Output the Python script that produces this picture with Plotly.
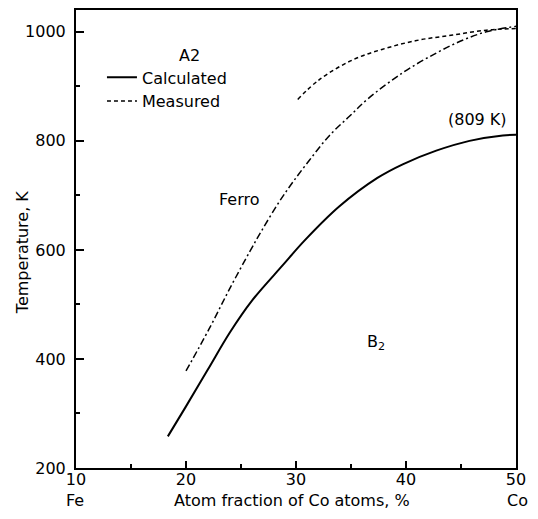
import plotly.graph_objects as go

# Calculated order-disorder (A2/B2) transition curve
calc_x = [18.35, 20.0, 22.0, 24.0, 26.0, 28.8, 30.77, 33.95, 37.4, 39.7, 42.75, 45.77, 48.8, 50.0]
calc_y = [258, 313, 381, 449, 507, 572, 617, 680, 732, 757, 782, 800, 810, 811]

# Measured transition curve (dashed)
meas_x = [30.16, 32.1, 35.2, 38.2, 41.2, 44.25, 47.3, 50.0]
meas_y = [876, 912, 949, 970, 985, 994, 1003, 1006]

# Ferro boundary curve (dash-dot)
ferro_x = [20.0, 22.1, 23.95, 25.77, 26.84, 28.5, 29.7, 31.2, 33.05, 34.86, 36.53, 39.7, 42.75, 45.2, 47.3, 50.0]
ferro_y = [378, 455, 528, 596, 634, 689, 724, 764, 810, 845, 877, 925, 961, 985, 1000, 1010]

x_tickvals = [10, 20, 30, 40, 50]
x_ticktext = ["10", "20", "30", "40", "50"]
y_tickvals = [200, 400, 600, 800, 1000]

FONT = "DejaVu Sans"

fig = go.Figure()
fig.add_trace(go.Scatter(x=calc_x, y=calc_y, mode="lines", name="Calculated",
                         line=dict(color="black", width=2, shape="spline")))
fig.add_trace(go.Scatter(x=meas_x, y=meas_y, mode="lines", name="Measured",
                         line=dict(color="black", width=1.5, dash="4px,3px", shape="spline")))
fig.add_trace(go.Scatter(x=ferro_x, y=ferro_y, mode="lines", name="Ferro", showlegend=False,
                         line=dict(color="black", width=1.5, dash="7px,3px,2px,3px", shape="spline")))

fig.update_layout(
    width=522, height=503,
    margin=dict(l=68, r=14, t=0, b=43),
    paper_bgcolor="white", plot_bgcolor="white",
    font=dict(family=FONT, size=16, color="black"),
    showlegend=True,
    legend=dict(x=0.059, y=0.89, xanchor="left", yanchor="top",
                bgcolor="rgba(0,0,0,0)", borderwidth=0,
                font=dict(family=FONT, size=16), tracegroupgap=0),
    xaxis=dict(range=[10, 50], tickvals=x_tickvals, ticktext=x_ticktext,
               ticks="inside", ticklen=7, tickwidth=1.5, tickcolor="black",
               ticklabelstandoff=-4,
               showline=True, linecolor="black", linewidth=2, mirror=True,
               showgrid=False, zeroline=False,
               minor=dict(tickvals=[15, 25, 35, 45], ticks="inside", ticklen=4,
                          tickwidth=1.5, tickcolor="black")),
    yaxis=dict(range=[200, 1040], tickvals=y_tickvals,
               ticks="inside", ticklen=8, tickwidth=1.5, tickcolor="black",
               ticklabelstandoff=5,
               showline=True, linecolor="black", linewidth=2, mirror=True,
               showgrid=False, zeroline=False,
               minor=dict(tickvals=[300, 500, 700, 900], ticks="inside", ticklen=4,
                          tickwidth=1.5, tickcolor="black")),
    annotations=[
        dict(x=20.3, y=957, xref="x", yref="y", text="A2", showarrow=False,
             font=dict(family=FONT, size=16)),
        dict(x=24.86, y=693, xref="x", yref="y", text="Ferro", showarrow=False,
             font=dict(family=FONT, size=16)),
        dict(x=46.5, y=839, xref="x", yref="y", text="(809 K)", showarrow=False,
             font=dict(family=FONT, size=16)),
        dict(x=37.3, y=430, xref="x", yref="y", text="B<sub>2</sub>", showarrow=False,
             font=dict(family=FONT, size=16)),
        dict(x=-0.003, y=-0.0717, xref="paper", yref="paper", text="Fe", showarrow=False,
             xanchor="center", yanchor="middle", font=dict(family=FONT, size=16)),
        dict(x=1.003, y=-0.0717, xref="paper", yref="paper", text="Co", showarrow=False,
             xanchor="center", yanchor="middle", font=dict(family=FONT, size=16)),
        dict(x=0.49, y=-0.0717, xref="paper", yref="paper", text="Atom fraction of Co atoms, %",
             showarrow=False, xanchor="center", yanchor="middle",
             font=dict(family=FONT, size=16)),
        dict(x=-0.123, y=0.471, xref="paper", yref="paper", text="Temperature, K",
             showarrow=False, textangle=-90, xanchor="center", yanchor="middle",
             font=dict(family=FONT, size=16)),
    ],
)

fig.write_html("out.html")
